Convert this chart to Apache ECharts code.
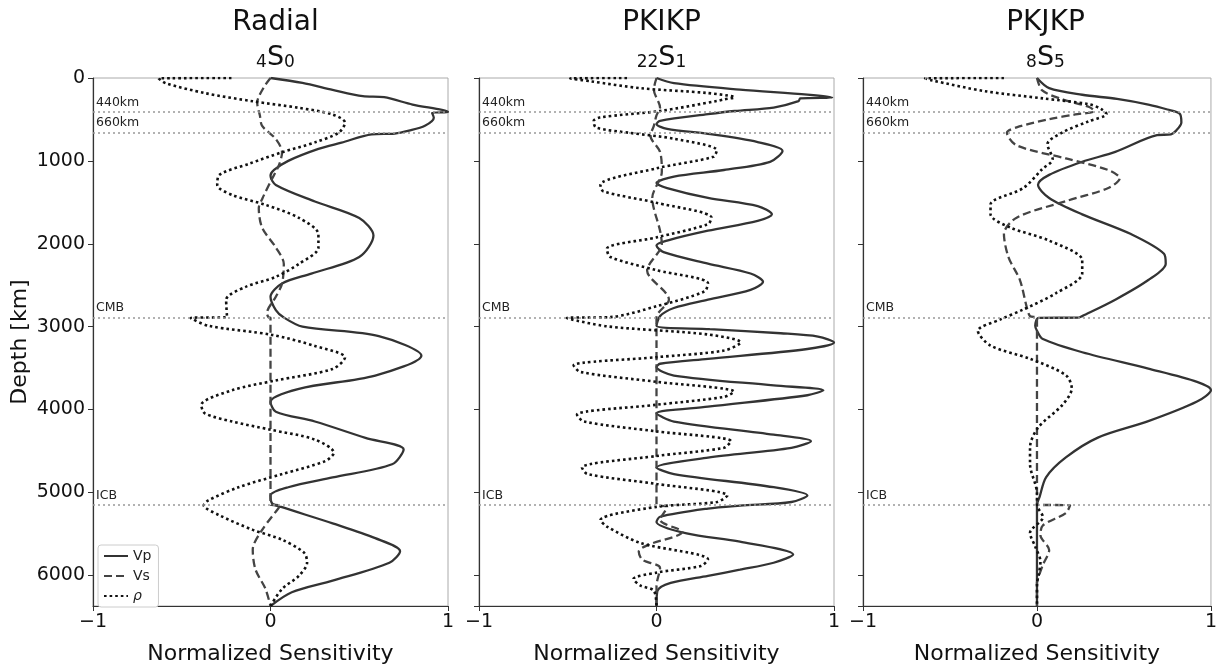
<!DOCTYPE html>
<html>
<head>
<meta charset="utf-8">
<script src="https://cdn.jsdelivr.net/npm/echarts@6/dist/echarts.min.js"></script>
<style>
  html, body { margin: 0; padding: 0; background: #fff; }
  #chart { width: 1220px; height: 670px; }
</style>
</head>
<body>
<div id="chart"></div>
<script>
// each point is [normalized sensitivity, depth km]
const radialVp = [[0,0],[0.18,60],[0.35,143],[0.52,219],[0.64,232],[0.80,320],[1.0,410],[0.91,420],[0.92,480],[0.87,576],[0.78,635],[0.70,670],[0.57,680],[0.40,780],[0.27,856],[0.10,1000],[0.02,1110],[0,1180],[0.03,1290],[0.25,1490],[0.50,1690],[0.58,1900],[0.50,2160],[0.23,2360],[0.065,2480],[0,2640],[0.03,2800],[0.075,2890],[0.18,3000],[0.61,3114],[0.85,3350],[0.59,3590],[0.16,3750],[0,3908],[0.03,4027],[0.25,4145],[0.535,4343],[0.75,4482],[0.685,4661],[0.35,4820],[0.10,4938],[0,5037],[0.01,5136],[0.06,5176],[0.35,5374],[0.59,5552],[0.73,5710],[0.67,5849],[0.35,6066],[0.12,6205],[0,6371]];
const radialVs = [[0,0],[-0.04,120],[-0.075,300],[-0.06,450],[-0.047,578],[0.03,737],[0.065,896],[0.047,1054],[0,1252],[-0.045,1450],[-0.066,1569],[-0.047,1807],[0.03,2045],[0.075,2243],[0.065,2481],[0.03,2640],[-0.02,2837],[-0.01,2891],[0,2895],[0,5150],[0.056,5155],[-0.047,5452],[-0.10,5690],[-0.085,5928],[-0.028,6166],[0,6371]];
const radialRho = [[-0.22,0],[-0.63,5],[-0.59,63],[-0.37,182],[-0.10,281],[0.16,360],[0.35,440],[0.42,539],[0.385,658],[0.25,777],[0.065,896],[-0.12,1034],[-0.29,1173],[-0.30,1292],[-0.216,1411],[-0.028,1530],[0.16,1688],[0.27,1886],[0.27,2045],[0.16,2243],[0.028,2401],[-0.14,2520],[-0.25,2678],[-0.245,2885],[-0.45,2895],[-0.35,2990],[0.01,3100],[0.25,3233],[0.42,3372],[0.35,3511],[0.028,3650],[-0.216,3768],[-0.39,3947],[-0.37,4046],[-0.216,4145],[0,4244],[0.25,4363],[0.357,4521],[0.31,4621],[0.065,4779],[-0.18,4938],[-0.35,5096],[-0.376,5155],[-0.29,5274],[-0.10,5452],[0.065,5571],[0.19,5730],[0.206,5849],[0.16,6007],[0.065,6166],[0,6371]];

const pkikpVp = [[0,0],[0.098,62],[0.47,140],[0.85,200],[0.99,235],[0.81,245],[0.80,280],[0.66,357],[0.44,398],[0.29,436],[0.02,516],[0,555],[0.06,615],[0.29,674],[0.57,773],[0.71,880],[0.64,1011],[0.38,1110],[0.098,1189],[0,1268],[0.06,1328],[0.29,1447],[0.57,1546],[0.65,1645],[0.57,1724],[0.29,1843],[0.06,1962],[0,2021],[0.04,2101],[0.29,2240],[0.53,2359],[0.60,2458],[0.53,2556],[0.29,2675],[0.098,2775],[0.02,2873],[0,2990],[0.30,3030],[0.70,3080],[0.91,3120],[1.0,3191],[0.85,3270],[0.29,3389],[0.02,3448],[0,3488],[0.098,3590],[0.66,3709],[0.94,3768],[0.85,3828],[0.29,3966],[0,4046],[0.098,4145],[0.66,4304],[0.87,4383],[0.76,4462],[0.29,4581],[0,4700],[0.098,4779],[0.66,4938],[0.85,5037],[0.76,5116],[0.47,5160],[0.29,5195],[0.02,5294],[0,5357],[0.17,5496],[0.47,5595],[0.77,5750],[0.66,5849],[0.47,5933],[0.29,6007],[0.08,6092],[0.005,6190],[0,6371]];
const pkikpVs = [[0,0],[-0.015,140],[0.02,357],[0,450],[-0.015,578],[-0.034,697],[0.02,892],[0.03,1130],[-0.024,1447],[0.02,1843],[0.03,2002],[-0.053,2322],[0.07,2675],[0,2891],[0,5150],[0.06,5175],[0.02,5330],[0.145,5476],[-0.05,5636],[-0.10,5714],[-0.08,5813],[0.02,5913],[0,6131],[0,6371]];
const pkikpRho = [[-0.166,0],[-0.486,5],[-0.37,40],[-0.09,123],[0.29,182],[0.44,234],[0.38,258],[0.34,278],[0.02,398],[-0.32,476],[-0.354,519],[-0.34,598],[-0.147,663],[0.098,733],[0.34,872],[0.32,951],[0,1090],[-0.316,1288],[-0.30,1367],[0,1506],[0.31,1685],[0.29,1764],[0,1923],[-0.28,2061],[-0.26,2160],[0,2319],[0.29,2477],[0.27,2576],[0,2754],[-0.26,2885],[-0.505,2895],[-0.28,2996],[0.29,3095],[0.475,3191],[0.38,3289],[0,3369],[-0.467,3468],[-0.43,3547],[0,3666],[0.437,3785],[0.38,3848],[0,3943],[-0.448,4062],[-0.41,4145],[0,4264],[0.42,4383],[0.38,4462],[0,4561],[-0.42,4700],[-0.39,4779],[0,4898],[0.40,5037],[0.34,5116],[0,5175],[-0.316,5333],[-0.28,5412],[-0.09,5611],[0.29,5809],[0.25,5888],[0,5968],[-0.13,6046],[-0.09,6125],[-0.015,6186],[0,6371]];

const pkjkpVp = [[0,0],[0.07,122],[0.26,202],[0.46,253],[0.64,321],[0.75,380],[0.82,430],[0.83,536],[0.80,635],[0.77,680],[0.69,690],[0.45,892],[0.26,1011],[0.07,1169],[0.006,1288],[0.07,1447],[0.26,1645],[0.54,1883],[0.73,2121],[0.74,2240],[0.64,2438],[0.45,2675],[0.26,2873],[0.24,2891],[0.01,2895],[-0.01,2990],[0,3050],[0.034,3150],[0.26,3309],[0.64,3507],[0.92,3666],[1.0,3765],[0.92,3904],[0.64,4141],[0.35,4339],[0.166,4578],[0.053,4815],[0.015,5053],[0,5150],[0,6371]];
const pkjkpVs = [[0,0],[0.03,150],[0.15,260],[0.30,350],[0.33,400],[0.22,440],[0.07,497],[-0.117,596],[-0.173,660],[-0.117,813],[0.166,971],[0.41,1110],[0.476,1209],[0.41,1328],[0.166,1486],[-0.117,1685],[-0.19,1883],[-0.164,2160],[-0.098,2438],[-0.06,2755],[-0.04,2873],[0,2891],[0,5150],[0.19,5155],[0.166,5250],[0.034,5398],[0.02,5517],[0.07,5695],[0.034,5874],[0.01,6014],[0,6085],[0,6371]];
const pkjkpRho = [[-0.19,0],[-0.643,5],[-0.61,26],[-0.30,159],[0.034,246],[0.30,317],[0.37,376],[0.40,436],[0.30,520],[0.147,656],[0.06,800],[0.09,980],[0.03,1100],[-0.079,1328],[-0.267,1526],[-0.267,1645],[-0.154,1804],[0.07,1962],[0.26,2200],[0.26,2359],[0.11,2596],[-0.079,2794],[-0.21,2913],[-0.34,3051],[-0.267,3229],[-0.04,3388],[0.166,3586],[0.20,3745],[0.147,3943],[0.006,4220],[-0.04,4458],[-0.04,4656],[0,5013],[0,5150],[0.034,5298],[-0.04,5488],[-0.01,5655],[0.02,5834],[0.01,5993],[0,6100],[0,6371]];

const panelTitles = ['Radial', 'PKIKP', 'PKJKP'];
const modeNames = [['4', 'S', '0'], ['22', 'S', '1'], ['8', 'S', '5']];
const boundaryDepths = [410, 660, 2891, 5150];
const boundaryLabels = ['440km', '660km', 'CMB', 'ICB'];
const xTicks = [-1, 0, 1];

const panels = [
  { vp: radialVp, vs: radialVs, rho: radialRho },
  { vp: pkikpVp, vs: pkikpVs, rho: pkikpRho },
  { vp: pkjkpVp, vs: pkjkpVs, rho: pkjkpRho },
];

const FONT = 'DejaVu Sans';
const gridLefts = [93, 479, 863];
const gridW = 355;

const chart = echarts.init(document.getElementById('chart'));

const grids = gridLefts.map((l) => ({
  left: l, top: 78, width: gridW, height: 536,
  show: true, borderColor: '#aaa', borderWidth: 1, backgroundColor: 'transparent',
}));

const xAxes = gridLefts.map((_, i) => ({
  gridIndex: i, type: 'value', min: xTicks[0], max: xTicks[2], interval: 1,
  axisLine: { show: true, onZero: false, lineStyle: { color: '#333', width: 1.2 } },
  axisTick: { show: true, length: 5, lineStyle: { color: '#333' } },
  axisLabel: { fontSize: 19, color: '#111', fontFamily: FONT, margin: 7,
    formatter: (v) => (v < 0 ? '\u2212' + Math.abs(v) : String(v)) },
  splitLine: { show: false },
  name: 'Normalized Sensitivity', nameLocation: 'middle', nameGap: 37,
  nameTextStyle: { fontSize: 22, color: '#111', fontFamily: FONT },
}));

const yAxes = gridLefts.map((_, i) => ({
  gridIndex: i, type: 'value', inverse: true, min: 0, max: 6371, interval: 1000,
  axisLine: { show: true, onZero: false, lineStyle: { color: '#333', width: 1.2 } },
  axisTick: { show: true, length: 5, lineStyle: { color: '#333' } },
  axisLabel: { show: i === 0, fontSize: 19, color: '#111', fontFamily: FONT, margin: 8,
    showMaxLabel: false, formatter: (v) => String(v) },
  splitLine: { show: false },
  name: i === 0 ? 'Depth [km]' : '', nameLocation: 'middle', nameGap: 62, nameRotate: 90,
  nameTextStyle: { fontSize: 22, color: '#111', fontFamily: FONT },
}));

const titles = [];
panelTitles.forEach((t, i) => {
  const cx = gridLefts[i] + gridW / 2;
  titles.push({
    text: t, left: cx, top: 4, textAlign: 'center',
    textStyle: { fontSize: 28, fontWeight: 'normal', color: '#111', fontFamily: FONT },
  });
  const m = modeNames[i];
  titles.push({
    text: '{s|' + m[0] + '}{b|' + m[1] + '}{s|' + m[2] + '}', left: cx, top: 36, textAlign: 'center',
    textStyle: {
      fontFamily: FONT, color: '#111', fontWeight: 'normal',
      rich: {
        s: { fontSize: 17, fontWeight: 'normal', verticalAlign: 'bottom', lineHeight: 30, color: '#111', fontFamily: FONT },
        b: { fontSize: 27, fontWeight: 'normal', verticalAlign: 'bottom', lineHeight: 30, color: '#111', fontFamily: FONT },
      },
    },
  });
});

const boundaryMarks = {
  silent: true, symbol: ['none', 'none'], animation: false,
  lineStyle: { type: [2, 3], color: '#999', width: 1.5 },
  label: { position: 'insideStartTop', fontSize: 12.5, color: '#222', fontFamily: FONT, distance: [3, 3] },
  data: boundaryDepths.map((d, k) => ({ yAxis: d, label: { formatter: boundaryLabels[k] } })),
};

const series = [];
panels.forEach((p, i) => {
  series.push({
    name: 'Vp', type: 'line', xAxisIndex: i, yAxisIndex: i, data: p.vp, smooth: 0.3,
    symbol: 'none', lineStyle: { color: '#333', width: 2.3 }, itemStyle: { color: '#333' },
    markLine: boundaryMarks, z: 3,
  });
  series.push({
    name: 'Vs', type: 'line', xAxisIndex: i, yAxisIndex: i, data: p.vs, smooth: 0.3,
    symbol: 'none', lineStyle: { color: '#444', width: 2.3, type: [8, 4] }, itemStyle: { color: '#444' }, z: 3,
  });
  series.push({
    name: '\u03c1', type: 'line', xAxisIndex: i, yAxisIndex: i, data: p.rho, smooth: 0.3,
    symbol: 'none', lineStyle: { color: '#111', width: 2.6, type: [2.6, 3] }, itemStyle: { color: '#111' }, z: 3,
  });
});

chart.setOption({
  animation: false,
  textStyle: { fontFamily: FONT },
  title: titles,
  grid: grids,
  xAxis: xAxes,
  yAxis: yAxes,
  legend: {
    left: 98, top: 545, orient: 'vertical', itemWidth: 24, itemHeight: 10, itemGap: 6,
    padding: [4, 7, 4, 5], borderColor: '#ccc', borderWidth: 1, borderRadius: 3,
    backgroundColor: '#fff', selectedMode: false,
    itemStyle: { opacity: 0 },
    textStyle: { fontSize: 14, color: '#222', fontFamily: FONT },
    data: ['Vp', 'Vs', { name: '\u03c1', textStyle: { fontStyle: 'italic' } }],
  },
  series: series,
});
</script>
</body>
</html>
